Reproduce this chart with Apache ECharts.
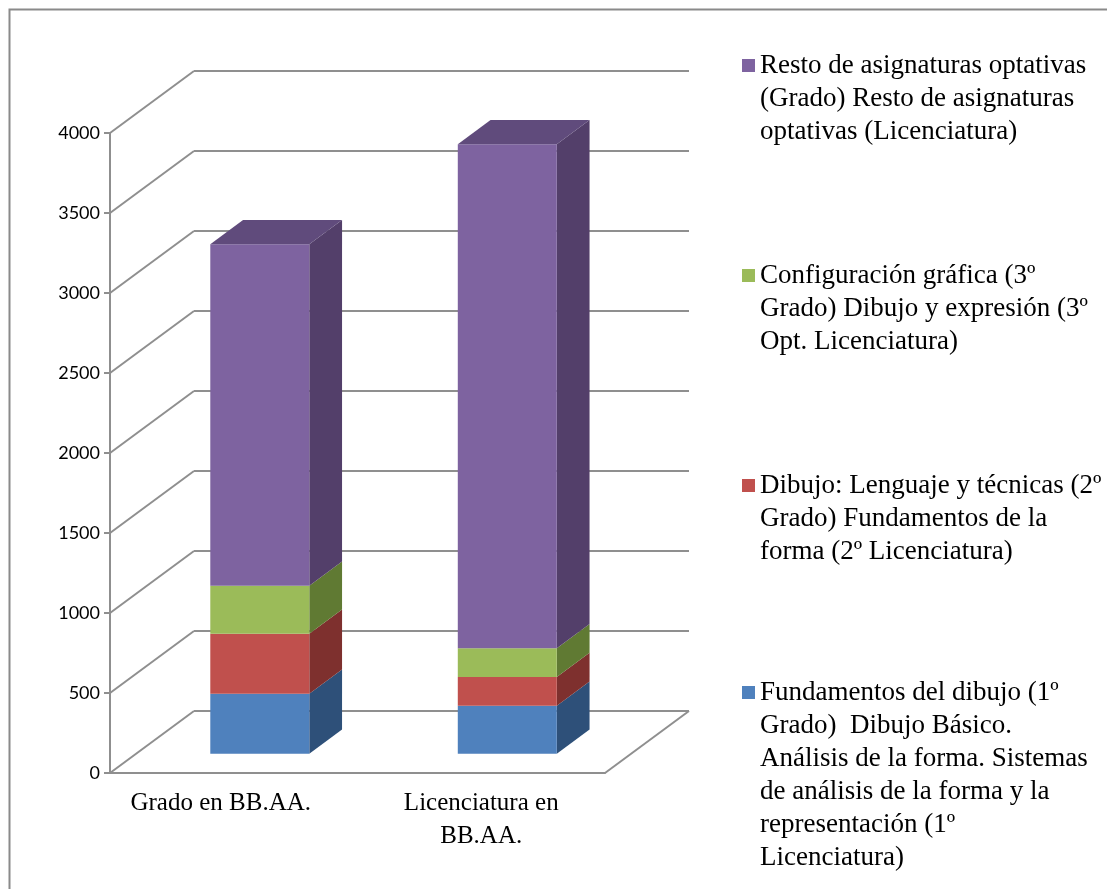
<!DOCTYPE html>
<html lang="es">
<head>
  <meta charset="UTF-8">
  <title>Grado vs Licenciatura</title>
  <script src="https://cdn.jsdelivr.net/npm/echarts@6/dist/echarts.min.js"></script>
  <style>
    html, body { margin: 0; padding: 0; background: #fff; }
    #main { width: 1107px; height: 889px; }
  </style>
</head>
<body>
<div id="main"></div>
<script>
  // datos
  var categories = ['Grado en BB.AA.', 'Licenciatura en\nBB.AA.'];
  var yTicks = [0, 500, 1000, 1500, 2000, 2500, 3000, 3500, 4000];

  var fundamentos = [375, 300];
  var dibujo = [375, 180];
  var configuracion = [300, 180];
  var resto = [2135, 3150];

  var seriesNames = [
    'Fundamentos del dibujo (1º\nGrado)  Dibujo Básico.\nAnálisis de la forma. Sistemas\nde análisis de la forma y la\nrepresentación (1º\nLicenciatura)',
    'Dibujo: Lenguaje y técnicas (2º\nGrado) Fundamentos de la\nforma (2º Licenciatura)',
    'Configuración gráfica (3º\nGrado) Dibujo y expresión (3º\nOpt. Licenciatura)',
    'Resto de asignaturas optativas\n(Grado) Resto de asignaturas\noptativas (Licenciatura)'
  ];

  window.onload = function () {
    var chart = echarts.init(document.getElementById('main'));

    var DEPTH = [84, -62];     // profundidad del suelo en px
    var FRONT = 0.31, BACK = 0.70, HALF = 0.2;
    var LINE = '#8f8f8f';

    var faces = [
      {front: '#4F81BD', side: '#2E5079', top: '#3D6596'},
      {front: '#C0504D', side: '#7E302E', top: '#9A3D3A'},
      {front: '#9BBB59', side: '#607A33', top: '#7D9A44'},
      {front: '#7E63A0', side: '#533F6A', top: '#604B7C'}
    ];

    var stacks = [fundamentos, dibujo, configuracion, resto];

    // apila los segmentos: [x, inicio, fin, esTope]
    var base = categories.map(function () { return 0; });
    var segData = stacks.map(function (vals, s) {
      return vals.map(function (v, i) {
        var item = [i + 0.5, base[i], base[i] + v, s === stacks.length - 1 ? 1 : 0];
        base[i] += v;
        return item;
      });
    });

    function wallItem(params, api) {
      var v = api.value(1);
      var p = api.coord([0, v]);
      var q = api.coord([2, v]);
      var st = {stroke: LINE, lineWidth: 2};
      var kids = [
        {type: 'line', shape: {x1: p[0], y1: p[1], x2: p[0] + DEPTH[0], y2: p[1] + DEPTH[1]}, style: st},
        {type: 'line', shape: {x1: p[0] + DEPTH[0], y1: p[1] + DEPTH[1], x2: q[0] + DEPTH[0], y2: q[1] + DEPTH[1]}, style: st}
      ];
      if (v === 0) {
        kids.push({type: 'line', shape: {x1: q[0], y1: q[1], x2: q[0] + DEPTH[0], y2: q[1] + DEPTH[1]}, style: st});
      }
      return {type: 'group', children: kids};
    }

    function makeBarItem(col) {
      return function (params, api) {
        var c = api.value(0), lo = api.value(1), hi = api.value(2), isTop = api.value(3);
        var p0 = api.coord([c - HALF, lo]);
        var p1 = api.coord([c + HALF, hi]);
        var fx = DEPTH[0] * FRONT, fy = DEPTH[1] * FRONT;
        var dx = DEPTH[0] * (BACK - FRONT), dy = DEPTH[1] * (BACK - FRONT);
        var L = p0[0] + fx, R = p1[0] + fx, B = p0[1] + fy, T = p1[1] + fy;
        var kids = [
          {type: 'polygon', shape: {points: [[R, B], [R, T], [R + dx, T + dy], [R + dx, B + dy]]},
            style: {fill: col.side}},
          {type: 'rect', shape: {x: L, y: T, width: R - L, height: B - T}, style: {fill: col.front}}
        ];
        if (isTop) {
          kids.push({type: 'polygon', shape: {points: [[L, T], [R, T], [R + dx, T + dy], [L + dx, T + dy]]},
            style: {fill: col.top}});
        }
        return {type: 'group', children: kids};
      };
    }

    var series = [{
      name: 'walls',
      type: 'custom',
      xAxisIndex: 1,
      yAxisIndex: 0,
      clip: false,
      silent: true,
      z: 1,
      renderItem: wallItem,
      data: yTicks.map(function (v) { return [0, v]; })
    }];

    stacks.forEach(function (vals, s) {
      series.push({
        name: seriesNames[s],
        type: 'custom',
        xAxisIndex: 1,
        yAxisIndex: 0,
        clip: false,
        z: 3,
        itemStyle: {color: faces[s].front},
        renderItem: makeBarItem(faces[s]),
        data: segData[s]
      });
    });

    var legendText = {
      fontFamily: 'Liberation Serif',
      fontSize: 27,
      lineHeight: 33,
      color: '#000'
    };

    // cuadro arriba, punto invisible abajo: el icono queda a la altura de la primera linea
    var icon3 = 'path://M0,0L13,0L13,13L0,13Z M13,79';
    var icon6 = 'path://M0,0L13,0L13,13L0,13Z M13,178';

    chart.setOption({
      backgroundColor: '#fff',
      animation: false,
      textStyle: {fontFamily: 'Liberation Serif'},
      graphic: [{
        type: 'rect',
        left: 7,
        top: 7,
        shape: {width: 1200, height: 1000},
        style: {fill: 'none', stroke: '#8a8a8a', lineWidth: 2},
        silent: true
      }],
      legend: [{
        orient: 'vertical',
        left: 742,
        top: 49,
        padding: 0,
        itemGap: 111,
        itemWidth: 13,
        itemHeight: 79,
        selectedMode: false,
        textStyle: legendText,
        data: [3, 2, 1].map(function (s) {
          return {name: seriesNames[s], icon: icon3};
        })
      }, {
        orient: 'vertical',
        left: 742,
        top: 676,
        padding: 0,
        itemWidth: 13,
        itemHeight: 178,
        selectedMode: false,
        textStyle: legendText,
        data: [{name: seriesNames[0], icon: icon6}]
      }],
      grid: {
        left: 110,
        top: 133,
        width: 495,
        height: 640
      },
      xAxis: [{
        type: 'category',
        data: [
          {value: categories[0], textStyle: {padding: [0, 26, 0, 0]}},
          categories[1]
        ],
        boundaryGap: true,
        axisLine: {lineStyle: {color: LINE, width: 2}},
        axisTick: {length: 6, lineStyle: {color: LINE, width: 2}},
        axisLabel: {
          margin: 14,
          interval: 0,
          color: '#000',
          fontFamily: 'Liberation Serif',
          fontSize: 25,
          lineHeight: 33
        },
        splitLine: {show: false}
      }, {
        type: 'value',
        min: 0,
        max: 2,
        position: 'top',
        show: false
      }],
      yAxis: {
        type: 'value',
        min: 0,
        max: 4000,
        interval: 500,
        axisLine: {show: true, lineStyle: {color: LINE, width: 2}},
        axisTick: {show: true, length: 6, lineStyle: {color: LINE, width: 2}},
        axisLabel: {
          margin: 10,
          color: '#000',
          fontFamily: 'Lato',
          fontSize: 18,
          formatter: function (v) { return String(v); }
        },
        splitLine: {show: false}
      },
      series: series
    });
  };
</script>
</body>
</html>
